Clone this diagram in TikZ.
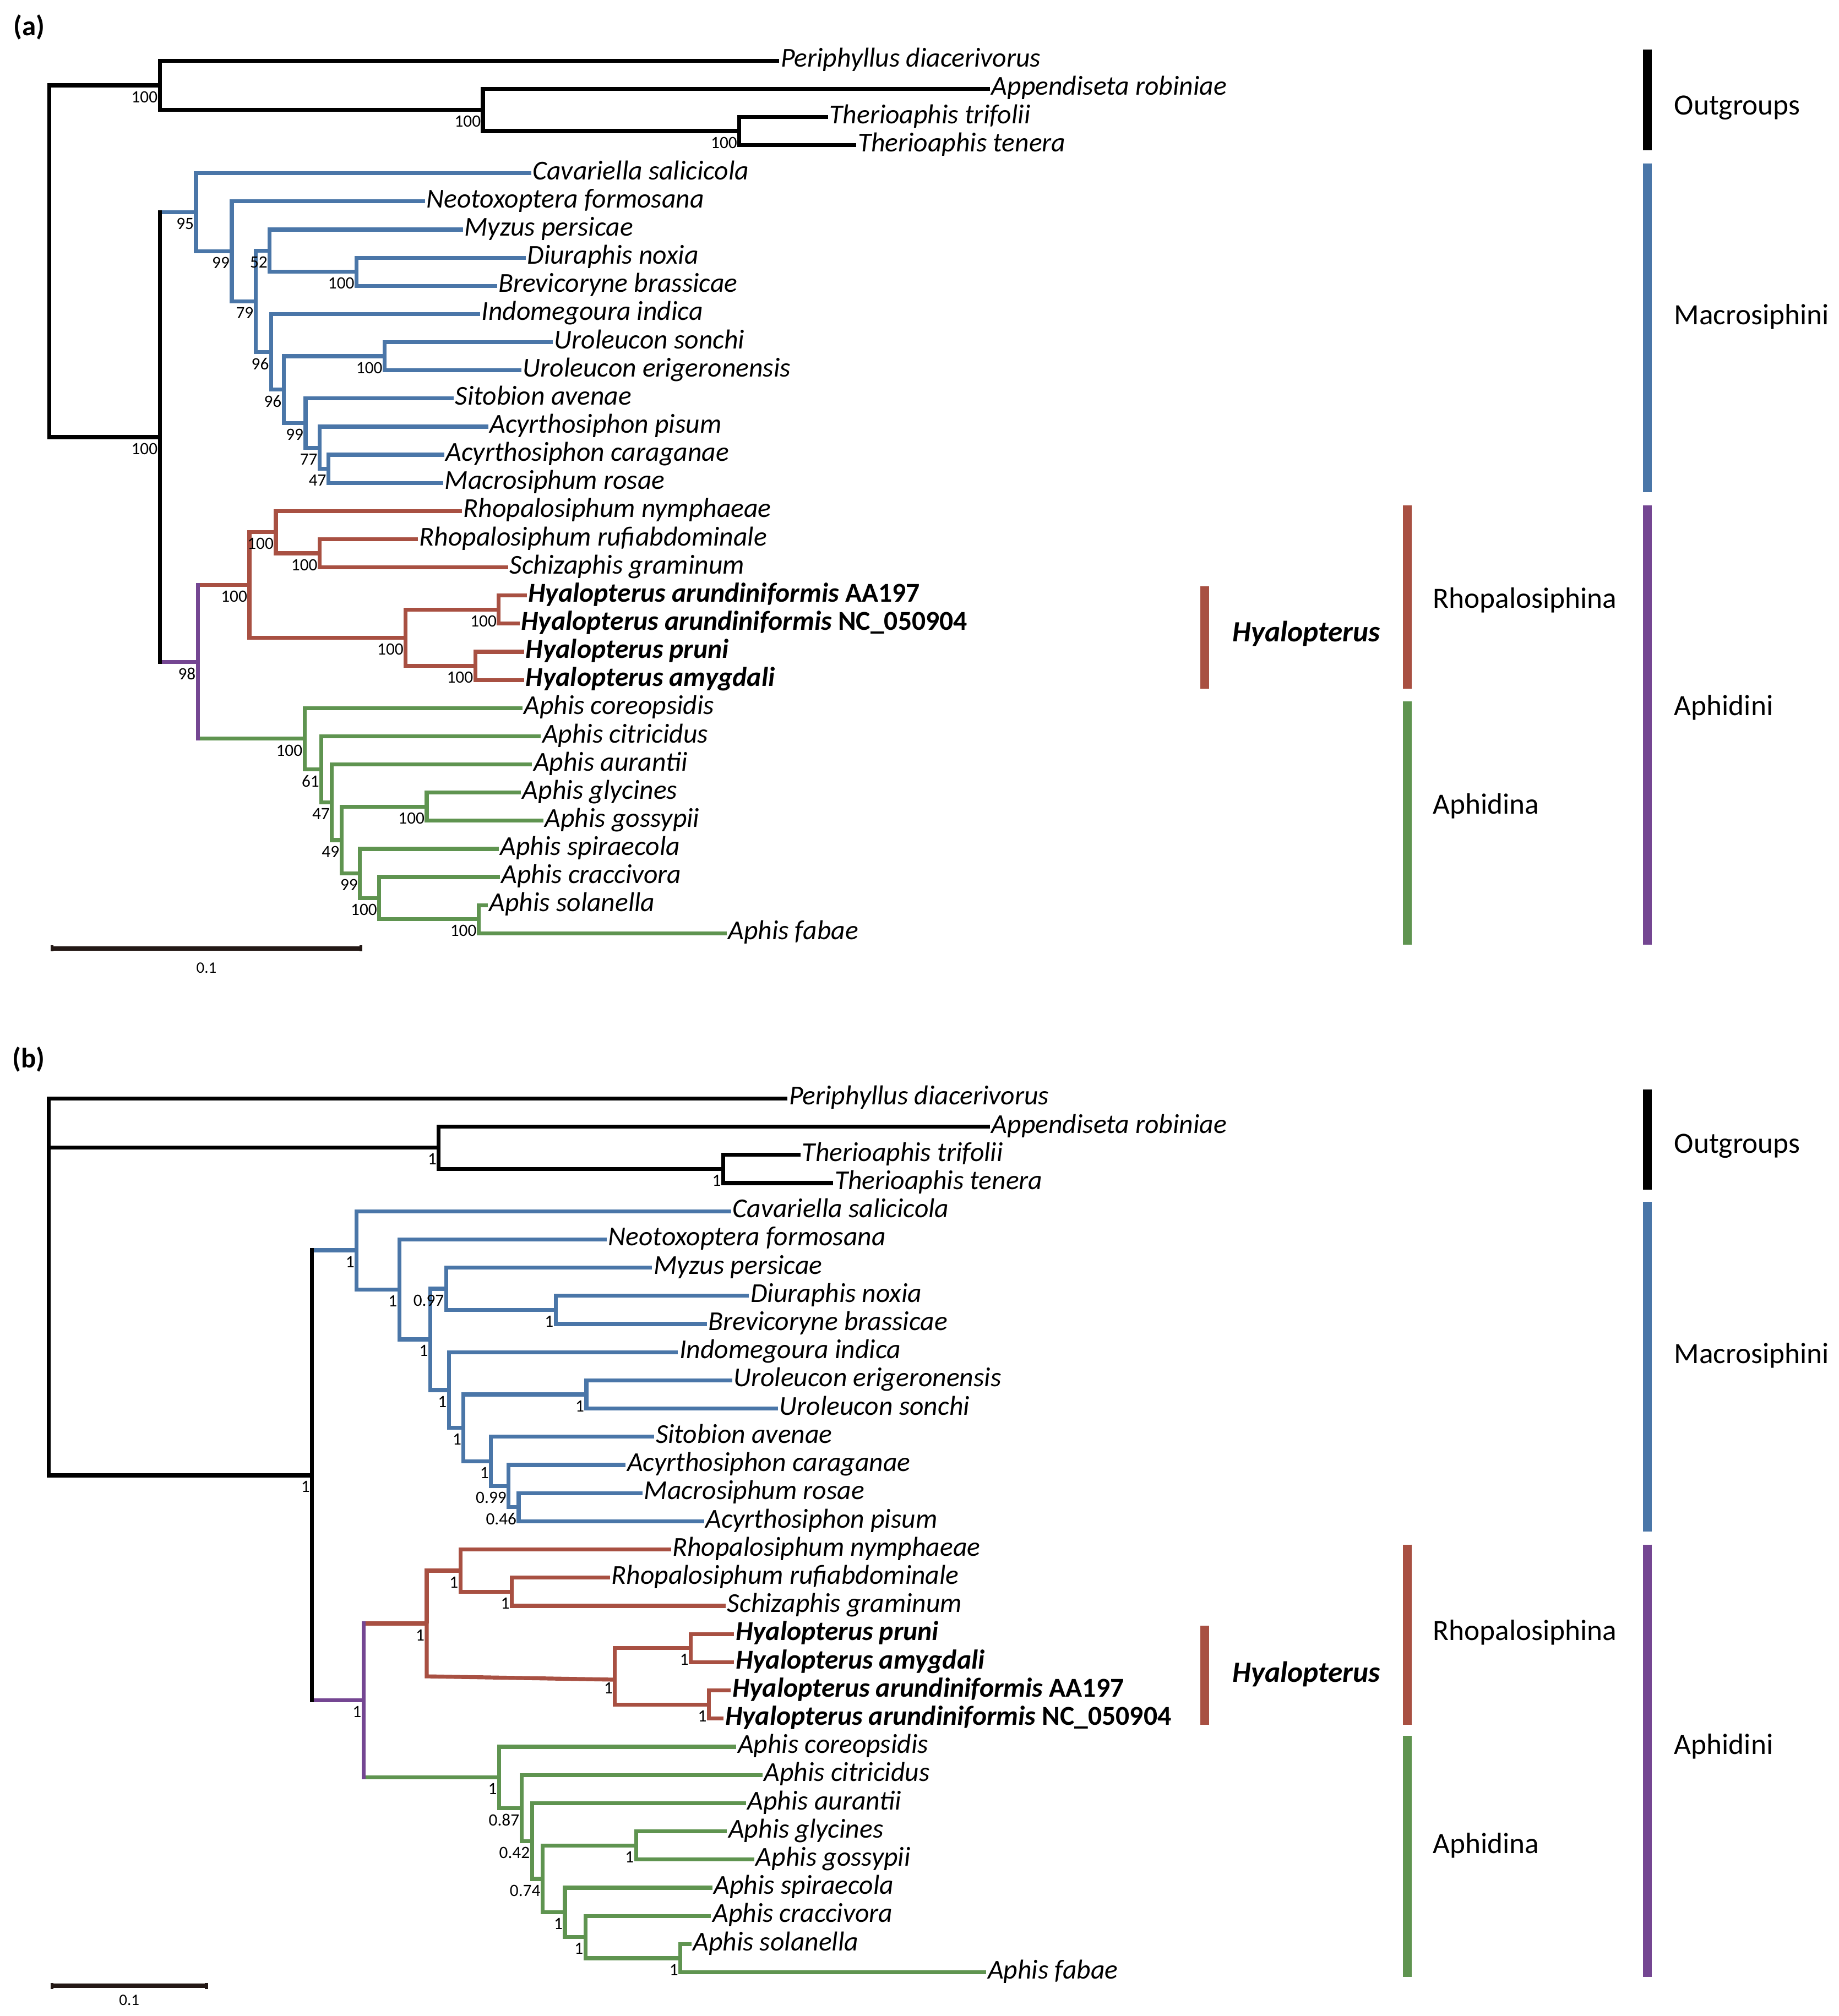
\documentclass[tikz,border=0pt]{standalone}
\usepackage{fontspec}
\setmainfont{Carlito}
\usepackage{tikz}
\usetikzlibrary{calc,positioning}

\definecolor{clB}{HTML}{4A76A8}
\definecolor{clR}{HTML}{A85042}
\definecolor{clG}{HTML}{5F9450}
\definecolor{clP}{HTML}{744692}
\definecolor{barK}{HTML}{231815}

\begin{document}
\begin{tikzpicture}
[x=1pt, y=-1pt,
taxon/.style={anchor=west, inner sep=1pt, text height=14pt, text depth=4pt,
font=\fontsize{21.4}{24}\selectfont\itshape},
hyalo/.style={taxon, font=\fontsize{21.4}{24}\selectfont\bfseries\itshape},
boot/.style={anchor=north east, inner sep=0pt, xshift=-1.5pt, yshift=-4.5pt,
font=\fontsize{13.5}{15}\selectfont},
grp/.style={anchor=base west, inner sep=0pt, font=\fontsize{23}{26}\selectfont},
grpbar/.style={line width=6.9pt},
panel/.style={anchor=base west, inner sep=0pt, font=\fontsize{22}{26}\selectfont\bfseries},
scl/.style={inner sep=0pt, font=\fontsize{12.5}{14}\selectfont}]
\useasboundingbox (0,0) rectangle (1439.85,1579.1);

% ---------------- (a) ----------------
\node[panel] (pa) at (10.5,28) {(a)};

\node[taxon] (a-peri) at (610.3,47.5) {Periphyllus diacerivorus};
\node[taxon] (a-appe) at (775.4,69.55) {Appendiseta robiniae};
\node[taxon] (a-trif) at (648.5,91.6) {Therioaphis trifolii};
\node[taxon] (a-tene) at (670.7,113.65) {Therioaphis tenera};
\node[taxon] (a-cava) at (416,135.7) {Cavariella salicicola};
\node[taxon] (a-neot) at (332.8,157.75) {Neotoxoptera formosana};
\node[taxon] (a-myzu) at (362.5,179.8) {Myzus persicae};
\node[taxon] (a-diur) at (411.7,201.85) {Diuraphis noxia};
\node[taxon] (a-brev) at (389.2,223.9) {Brevicoryne brassicae};
\node[taxon] (a-indo) at (376,245.95) {Indomegoura indica};
\node[taxon] (a-sonc) at (433,268.0) {Uroleucon sonchi};
\node[taxon] (a-erig) at (408.4,290.05) {Uroleucon erigeronensis};
\node[taxon] (a-sito) at (355.3,312.1) {Sitobion avenae};
\node[taxon] (a-pisu) at (382.3,334.15) {Acyrthosiphon pisum};
\node[taxon] (a-cara) at (347.9,356.2) {Acyrthosiphon caraganae};
\node[taxon] (a-rosa) at (347.1,378.25) {Macrosiphum rosae};
\node[taxon] (a-nymp) at (361.7,400.3) {Rhopalosiphum nymphaeae};
\node[taxon] (a-rufi) at (327.3,422.35) {Rhopalosiphum rufiabdominale};
\node[taxon] (a-gram) at (398,444.4) {Schizaphis graminum};
\node[hyalo] (a-aa19) at (412.6,466.45) {Hyalopterus arundiniformis \textup{AA197}};
\node[hyalo] (a-nc05) at (407,488.5) {Hyalopterus arundiniformis \textup{NC\_050904}};
\node[hyalo] (a-prun) at (410.6,510.55) {Hyalopterus pruni};
\node[hyalo] (a-amyg) at (410.6,532.6) {Hyalopterus amygdali};
\node[taxon] (a-core) at (409,554.65) {Aphis coreopsidis};
\node[taxon] (a-citr) at (423.6,576.7) {Aphis citricidus};
\node[taxon] (a-aura) at (416.7,598.75) {Aphis aurantii};
\node[taxon] (a-glyc) at (408,620.8) {Aphis glycines};
\node[taxon] (a-goss) at (425.5,642.85) {Aphis gossypii};
\node[taxon] (a-spir) at (390.6,664.9) {Aphis spiraecola};
\node[taxon] (a-crac) at (391.4,686.95) {Aphis craccivora};
\node[taxon] (a-sola) at (382,709.0) {Aphis solanella};
\node[taxon] (a-faba) at (569,731.05) {Aphis fabae};

\coordinate (aRoot) at (38.5,204.6);
\coordinate (aOut) at (125.1,66.8);
\coordinate (aApp) at (378.2,86.1);
\coordinate (aThe) at (579,102.6);
\coordinate (aIn) at (125.1,342.35);
\coordinate (a95) at (153.5,166.3);
\coordinate (a99a) at (181.5,196.9);
\coordinate (a79) at (200.2,236.0);
\coordinate (a52) at (211.2,196.35);
\coordinate (aDB) at (279.2,212.9);
\coordinate (a96a) at (212.3,275.6);
\coordinate (a96b) at (222.2,305.2);
\coordinate (aUU) at (301.2,279.0);
\coordinate (a99b) at (239.3,331.4);
\coordinate (a77) at (250.3,350.7);
\coordinate (a47) at (257.2,367.2);
\coordinate (aAd) at (154.9,518.4);
\coordinate (aRh) at (195.3,458.2);
\coordinate (aR) at (216,416.85);
\coordinate (aRS) at (250.3,433.4);
\coordinate (aH) at (317.7,499.5);
\coordinate (aHA) at (390.6,477.5);
\coordinate (aHP) at (372.2,521.6);
\coordinate (aAph) at (238.5,578.6);
\coordinate (a61) at (251.7,602.55);
\coordinate (a47b) at (259.9,628.4);
\coordinate (a49) at (267.4,658.0);
\coordinate (aGG) at (334.2,631.8);
\coordinate (aSp) at (281.9,684.2);
\coordinate (aCr) at (297,703.5);
\coordinate (aSF) at (374.9,720.0);

\begin{scope}[line width=3.1pt]
% outgroups
\draw (aRoot) |- (aOut);
\draw (aRoot) |- (aIn);
\draw (aOut) |- (a-peri.west);
\draw (aOut) |- (aApp);
\draw (aApp) |- (a-appe.west);
\draw (aApp) |- (aThe);
\draw (aThe) |- (a-trif.west);
\draw (aThe) |- (a-tene.west);
% Macrosiphini
\draw[clB] (aIn |- a95) -- (a95);
\draw[clB] (a95) |- (a-cava.west);
\draw[clB] (a95) |- (a99a);
\draw[clB] (a99a) |- (a-neot.west);
\draw[clB] (a99a) |- (a79);
\draw[clB] (a79) |- (a52);
\draw[clB] (a79) |- (a96a);
\draw[clB] (a52) |- (a-myzu.west);
\draw[clB] (a52) |- (aDB);
\draw[clB] (aDB) |- (a-diur.west);
\draw[clB] (aDB) |- (a-brev.west);
\draw[clB] (a96a) |- (a-indo.west);
\draw[clB] (a96a) |- (a96b);
\draw[clB] (a96b) |- (aUU);
\draw[clB] (a96b) |- (a99b);
\draw[clB] (aUU) |- (a-sonc.west);
\draw[clB] (aUU) |- (a-erig.west);
\draw[clB] (a99b) |- (a-sito.west);
\draw[clB] (a99b) |- (a77);
\draw[clB] (a77) |- (a-pisu.west);
\draw[clB] (a77) |- (a47);
\draw[clB] (a47) |- (a-cara.west);
\draw[clB] (a47) |- (a-rosa.west);
% Aphidini
\draw[clP] (aIn |- aAd) -- (aAd);
\draw[line cap=rect] (aIn |- a95) -- (aIn |- aAd);
\draw[clR] (aAd |- aRh) -- (aRh);
\draw[clG] (aAd |- aAph) -- (aAph);
\draw[clP, line cap=rect] (aAd |- aRh) -- (aAd |- aAph);
\draw[clR] (aRh) |- (aR);
\draw[clR] (aRh) |- (aH);
\draw[clR] (aR) |- (a-nymp.west);
\draw[clR] (aR) |- (aRS);
\draw[clR] (aRS) |- (a-rufi.west);
\draw[clR] (aRS) |- (a-gram.west);
\draw[clR] (aH) |- (aHA);
\draw[clR] (aH) |- (aHP);
\draw[clR] (aHA) |- (a-aa19.west);
\draw[clR] (aHA) |- (a-nc05.west);
\draw[clR] (aHP) |- (a-prun.west);
\draw[clR] (aHP) |- (a-amyg.west);
\draw[clG] (aAph) |- (a-core.west);
\draw[clG] (aAph) |- (a61);
\draw[clG] (a61) |- (a-citr.west);
\draw[clG] (a61) |- (a47b);
\draw[clG] (a47b) |- (a-aura.west);
\draw[clG] (a47b) |- (a49);
\draw[clG] (a49) |- (aGG);
\draw[clG] (a49) |- (aSp);
\draw[clG] (aGG) |- (a-glyc.west);
\draw[clG] (aGG) |- (a-goss.west);
\draw[clG] (aSp) |- (a-spir.west);
\draw[clG] (aSp) |- (aCr);
\draw[clG] (aCr) |- (a-crac.west);
\draw[clG] (aCr) |- (aSF);
\draw[clG] (aSF) |- (a-sola.west);
\draw[clG] (aSF) |- (a-faba.west);
\end{scope}

% bootstrap values
\node[boot] (aOut-v) at (aOut) {100};
\node[boot] (aApp-v) at (aApp) {100};
\node[boot] (aThe-v) at (aThe) {100};
\node[boot] (aIn-v) at (aIn) {100};
\node[boot] (a95-v) at (a95) {95};
\node[boot] (a99a-v) at (a99a) {99};
\node[boot] (a52-v) at (a52) {52};
\node[boot] (aDB-v) at (aDB) {100};
\node[boot] (a79-v) at (a79) {79};
\node[boot] (a96a-v) at (a96a) {96};
\node[boot] (aUU-v) at (aUU) {100};
\node[boot] (a96b-v) at (a96b) {96};
\node[boot] (a99b-v) at (a99b) {99};
\node[boot] (a77-v) at (a77) {77};
\node[boot] (a47-v) at (a47) {47};
\node[boot] (aAd-v) at (aAd) {98};
\node[boot] (aRh-v) at (aRh) {100};
\node[boot] (aR-v) at (aR) {100};
\node[boot] (aRS-v) at (aRS) {100};
\node[boot] (aH-v) at (aH) {100};
\node[boot] (aHA-v) at (aHA) {100};
\node[boot] (aHP-v) at (aHP) {100};
\node[boot] (aAph-v) at (aAph) {100};
\node[boot] (a61-v) at (a61) {61};
\node[boot] (a47b-v) at (a47b) {47};
\node[boot] (a49-v) at (a49) {49};
\node[boot] (aGG-v) at (aGG) {100};
\node[boot] (aSp-v) at (aSp) {99};
\node[boot] (aCr-v) at (aCr) {100};
\node[boot] (aSF-v) at (aSF) {100};

% scale bar
\coordinate (aSc1) at (39.6,742.8);
\coordinate (aSc2) at (283.8,742.8);
\draw[barK, line width=3.4pt] (aSc1) -- (aSc2);
\draw[barK, line width=2.2pt] ($(aSc1)+(1.1,-2.4)$) -- ($(aSc1)+(1.1,2.4)$);
\draw[barK, line width=2.2pt] ($(aSc2)+(-1.1,-2.4)$) -- ($(aSc2)+(-1.1,2.4)$);
\node[scl] (aSc-l) at (161.7,758) {0.1};

% groups
\draw[grpbar, black] (1290,38.6) -- (1290,117.8);
\draw[grpbar, clB] (1290,127.9) -- (1290,385.3);
\draw[grpbar, clP] (1290,396) -- (1290,740);
\draw[grpbar, clR] (1102,396) -- (1102,539.6);
\draw[grpbar, clG] (1102,549.5) -- (1102,740);
\draw[grpbar, clR] (943.5,459.4) -- (943.5,539.6);
\node[grp] (a-g1) at (1311,89.8) {Outgroups};
\node[grp] (a-g2) at (1311,254) {Macrosiphini};
\node[grp] (a-g3) at (1311,560.4) {Aphidini};
\node[grp] (a-g4) at (1122,476.3) {Rhopalosiphina};
\node[grp] (a-g5) at (1122,637.6) {Aphidina};
\node[grp, font=\fontsize{23}{26}\selectfont\bfseries\itshape] (a-g6) at (965,502.4) {Hyalopterus};

% ---------------- (b) ----------------
\node[panel] (pb) at (9.5,836.5) {(b)};

\node[taxon] (b-peri) at (616.8,860.4) {Periphyllus diacerivorus};
\node[taxon] (b-appe) at (775.4,882.48) {Appendiseta robiniae};
\node[taxon] (b-trif) at (627,904.56) {Therioaphis trifolii};
\node[taxon] (b-tene) at (652.6,926.64) {Therioaphis tenera};
\node[taxon] (b-cava) at (572.6,948.72) {Cavariella salicicola};
\node[taxon] (b-neot) at (475.2,970.8) {Neotoxoptera formosana};
\node[taxon] (b-myzu) at (510.7,992.88) {Myzus persicae};
\node[taxon] (b-diur) at (586.6,1014.96) {Diuraphis noxia};
\node[taxon] (b-brev) at (553.6,1037.04) {Brevicoryne brassicae};
\node[taxon] (b-indo) at (531,1059.12) {Indomegoura indica};
\node[taxon] (b-erig) at (573.4,1081.2) {Uroleucon erigeronensis};
\node[taxon] (b-sonc) at (609.3,1103.28) {Uroleucon sonchi};
\node[taxon] (b-sito) at (512.4,1125.36) {Sitobion avenae};
\node[taxon] (b-cara) at (490,1147.44) {Acyrthosiphon caraganae};
\node[taxon] (b-rosa) at (503.3,1169.52) {Macrosiphum rosae};
\node[taxon] (b-pisu) at (551.3,1191.6) {Acyrthosiphon pisum};
\node[taxon] (b-nymp) at (525.5,1213.68) {Rhopalosiphum nymphaeae};
\node[taxon] (b-rufi) at (477.7,1235.76) {Rhopalosiphum rufiabdominale};
\node[taxon] (b-gram) at (568.4,1257.84) {Schizaphis graminum};
\node[hyalo] (b-prun) at (575,1279.92) {Hyalopterus pruni};
\node[hyalo] (b-amyg) at (575,1302.0) {Hyalopterus amygdali};
\node[hyalo] (b-aa19) at (572.4,1324.08) {Hyalopterus arundiniformis \textup{AA197}};
\node[hyalo] (b-nc05) at (566.8,1346.16) {Hyalopterus arundiniformis \textup{NC\_050904}};
\node[taxon] (b-core) at (576.7,1368.24) {Aphis coreopsidis};
\node[taxon] (b-citr) at (597.1,1390.32) {Aphis citricidus};
\node[taxon] (b-aura) at (584.2,1412.4) {Aphis aurantii};
\node[taxon] (b-glyc) at (569.4,1434.48) {Aphis glycines};
\node[taxon] (b-goss) at (590.8,1456.56) {Aphis gossypii};
\node[taxon] (b-spir) at (557.9,1478.64) {Aphis spiraecola};
\node[taxon] (b-crac) at (556.9,1500.72) {Aphis craccivora};
\node[taxon] (b-sola) at (541.4,1522.8) {Aphis solanella};
\node[taxon] (b-faba) at (772.4,1544.88) {Aphis fabae};

\coordinate (bRoot) at (38,1155.6);
\coordinate (bApp) at (343.6,899.0);
\coordinate (bThe) at (566.4,915.6);
\coordinate (bIn) at (244.4,1155.6);
\coordinate (bMa) at (279.3,979.3);
\coordinate (bM2) at (312.7,1009.95);
\coordinate (bM3) at (337,1049.1);
\coordinate (b097) at (349.4,1009.44);
\coordinate (bDB) at (435.2,1026.0);
\coordinate (bIm) at (351.5,1088.8);
\coordinate (bU2) at (363,1118.46);
\coordinate (bUU) at (459.2,1092.24);
\coordinate (bSi) at (384.5,1144.68);
\coordinate (b099) at (398.3,1164.0);
\coordinate (b046) at (406.2,1180.56);
\coordinate (bAd) at (284.7,1331.9);
\coordinate (bRh) at (334.2,1271.64);
\coordinate (bR) at (360.6,1230.24);
\coordinate (bRS) at (400.8,1246.8);
\coordinate (bH) at (481.6,1313.04);
\coordinate (bHP) at (541,1290.96);
\coordinate (bHA) at (555.2,1335.12);
\coordinate (bAph) at (390.9,1392.2);
\coordinate (b087) at (408.4,1416.2);
\coordinate (b042) at (416.6,1442.07);
\coordinate (b074) at (424.9,1471.74);
\coordinate (bGG) at (498.1,1445.52);
\coordinate (bSp) at (442.4,1497.96);
\coordinate (bCr) at (458.5,1517.28);
\coordinate (bSF) at (532.8,1533.84);

\begin{scope}[line width=3.1pt]
% outgroups
\draw (b-peri.west) -| (bRoot) -- (bIn);
\draw (bRoot |- bApp) -- (bApp);
\draw (bApp) |- (b-appe.west);
\draw (bApp) |- (bThe);
\draw (bThe) |- (b-trif.west);
\draw (bThe) |- (b-tene.west);
% Macrosiphini
\draw[clB] (bIn |- bMa) -- (bMa);
\draw[clB] (bMa) |- (b-cava.west);
\draw[clB] (bMa) |- (bM2);
\draw[clB] (bM2) |- (b-neot.west);
\draw[clB] (bM2) |- (bM3);
\draw[clB] (bM3) |- (b097);
\draw[clB] (bM3) |- (bIm);
\draw[clB] (b097) |- (b-myzu.west);
\draw[clB] (b097) |- (bDB);
\draw[clB] (bDB) |- (b-diur.west);
\draw[clB] (bDB) |- (b-brev.west);
\draw[clB] (bIm) |- (b-indo.west);
\draw[clB] (bIm) |- (bU2);
\draw[clB] (bU2) |- (bUU);
\draw[clB] (bU2) |- (bSi);
\draw[clB] (bUU) |- (b-erig.west);
\draw[clB] (bUU) |- (b-sonc.west);
\draw[clB] (bSi) |- (b-sito.west);
\draw[clB] (bSi) |- (b099);
\draw[clB] (b099) |- (b-cara.west);
\draw[clB] (b099) |- (b046);
\draw[clB] (b046) |- (b-rosa.west);
\draw[clB] (b046) |- (b-pisu.west);
% Aphidini
\draw[clP] (bIn |- bAd) -- (bAd);
\draw[line cap=rect] (bIn |- bMa) -- (bIn |- bAd);
\draw[clR] (bAd |- bRh) -- (bRh);
\draw[clG] (bAd |- bAph) -- (bAph);
\draw[clP, line cap=rect] (bAd |- bRh) -- (bAd |- bAph);
\draw[clR] (bRh) |- (bR);
\draw[clR] (bRh) -- (bRh |- bH) -- ($(bH)+(0,2.6)$);
\draw[clR] (bR) |- (b-nymp.west);
\draw[clR] (bR) |- (bRS);
\draw[clR] (bRS) |- (b-rufi.west);
\draw[clR] (bRS) |- (b-gram.west);
\draw[clR] (bH) |- (bHP);
\draw[clR] (bH) |- (bHA);
\draw[clR] (bHP) |- (b-prun.west);
\draw[clR] (bHP) |- (b-amyg.west);
\draw[clR] (bHA) |- (b-aa19.west);
\draw[clR] (bHA) |- (b-nc05.west);
\draw[clG] (bAph) |- (b-core.west);
\draw[clG] (bAph) |- (b087);
\draw[clG] (b087) |- (b-citr.west);
\draw[clG] (b087) |- (b042);
\draw[clG] (b042) |- (b-aura.west);
\draw[clG] (b042) |- (b074);
\draw[clG] (b074) |- (bGG);
\draw[clG] (b074) |- (bSp);
\draw[clG] (bGG) |- (b-glyc.west);
\draw[clG] (bGG) |- (b-goss.west);
\draw[clG] (bSp) |- (b-spir.west);
\draw[clG] (bSp) |- (bCr);
\draw[clG] (bCr) |- (b-crac.west);
\draw[clG] (bCr) |- (bSF);
\draw[clG] (bSF) |- (b-sola.west);
\draw[clG] (bSF) |- (b-faba.west);
\end{scope}

% posterior probabilities
\node[boot] (bApp-v) at (bApp) {1};
\node[boot] (bThe-v) at (bThe) {1};
\node[boot] (bIn-v) at (bIn) {1};
\node[boot] (bMa-v) at (bMa) {1};
\node[boot] (bM2-v) at (bM2) {1};
\node[boot] (b097-v) at (b097) {0.97};
\node[boot] (bM3-v) at (bM3) {1};
\node[boot] (bDB-v) at (bDB) {1};
\node[boot] (bIm-v) at (bIm) {1};
\node[boot] (bUU-v) at (bUU) {1};
\node[boot] (bU2-v) at (bU2) {1};
\node[boot] (bSi-v) at (bSi) {1};
\node[boot] (b099-v) at (b099) {0.99};
\node[boot] (b046-v) at (b046) {0.46};
\node[boot] (bAd-v) at (bAd) {1};
\node[boot] (bRh-v) at (bRh) {1};
\node[boot] (bR-v) at (bR) {1};
\node[boot] (bRS-v) at (bRS) {1};
\node[boot] (bH-v) at (bH) {1};
\node[boot] (bHP-v) at (bHP) {1};
\node[boot] (bHA-v) at (bHA) {1};
\node[boot] (bAph-v) at (bAph) {1};
\node[boot] (b087-v) at (b087) {0.87};
\node[boot] (b042-v) at (b042) {0.42};
\node[boot] (bGG-v) at (bGG) {1};
\node[boot] (b074-v) at (b074) {0.74};
\node[boot] (bSp-v) at (bSp) {1};
\node[boot] (bCr-v) at (bCr) {1};
\node[boot] (bSF-v) at (bSF) {1};

% scale bar
\coordinate (bSc1) at (39.6,1555.4);
\coordinate (bSc2) at (162.8,1555.4);
\draw[barK, line width=3.4pt] (bSc1) -- (bSc2);
\draw[barK, line width=2.2pt] ($(bSc1)+(1.1,-2.4)$) -- ($(bSc1)+(1.1,2.4)$);
\draw[barK, line width=2.2pt] ($(bSc2)+(-1.1,-2.4)$) -- ($(bSc2)+(-1.1,2.4)$);
\node[scl] (bSc-l) at (101.2,1566.8) {0.1};

% groups
\draw[grpbar, black] (1290,853.3) -- (1290,931.7);
\draw[grpbar, clB] (1290,941.4) -- (1290,1199.6);
\draw[grpbar, clP] (1290,1209.8) -- (1290,1548.5);
\draw[grpbar, clR] (1102,1209.8) -- (1102,1350.8);
\draw[grpbar, clG] (1102,1359.6) -- (1102,1548.5);
\draw[grpbar, clR] (943.5,1273.3) -- (943.5,1350.8);
\node[grp] (b-g1) at (1311,903.3) {Outgroups};
\node[grp] (b-g2) at (1311,1068) {Macrosiphini};
\node[grp] (b-g3) at (1311,1374.2) {Aphidini};
\node[grp] (b-g4) at (1122,1284.6) {Rhopalosiphina};
\node[grp] (b-g5) at (1122,1451.7) {Aphidina};
\node[grp, font=\fontsize{23}{26}\selectfont\bfseries\itshape] (b-g6) at (965,1317.5) {Hyalopterus};
\end{tikzpicture}
\end{document}
